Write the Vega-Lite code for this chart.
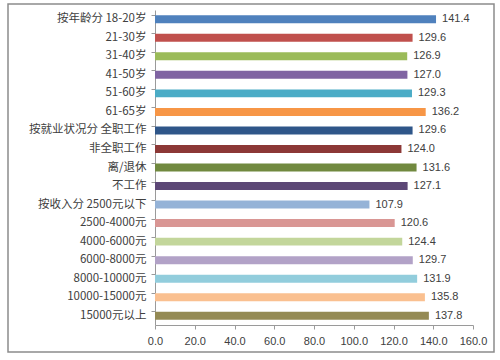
{
  "$schema": "https://vega.github.io/schema/vega-lite/v6.json",
  "width": 486,
  "height": 348,
  "autosize": {"type": "none"},
  "padding": {"left": 8, "top": 4, "right": 6, "bottom": 8},
  "background": "white",
  "config": {
    "view": {"stroke": "#8c8c8c", "strokeWidth": 1.5},
    "font": "Noto Sans CJK SC"
  },
  "data": {
    "values": [
      {"cat": "按年龄分 18-20岁", "value": 141.4, "color": "#4F81BD"},
      {"cat": "21-30岁", "value": 129.6, "color": "#C0504D"},
      {"cat": "31-40岁", "value": 126.9, "color": "#9BBB59"},
      {"cat": "41-50岁", "value": 127.0, "color": "#8064A2"},
      {"cat": "51-60岁", "value": 129.3, "color": "#4BACC6"},
      {"cat": "61-65岁", "value": 136.2, "color": "#F79646"},
      {"cat": "按就业状况分 全职工作", "value": 129.6, "color": "#2F5689"},
      {"cat": "非全职工作", "value": 124.0, "color": "#8C3836"},
      {"cat": "离/退休", "value": 131.6, "color": "#71893F"},
      {"cat": "不工作", "value": 127.1, "color": "#5C4776"},
      {"cat": "按收入分 2500元以下", "value": 107.9, "color": "#95B3D7"},
      {"cat": "2500-4000元", "value": 120.6, "color": "#D99694"},
      {"cat": "4000-6000元", "value": 124.4, "color": "#C3D69B"},
      {"cat": "6000-8000元", "value": 129.7, "color": "#B2A2C7"},
      {"cat": "8000-10000元", "value": 131.9, "color": "#92CDDC"},
      {"cat": "10000-15000元", "value": 135.8, "color": "#FAC090"},
      {"cat": "15000元以上", "value": 137.8, "color": "#948A54"}
    ]
  },
  "encoding": {
    "y": {
      "field": "cat",
      "type": "nominal",
      "sort": null,
      "scale": {"range": [6, 321], "paddingInner": 0.57, "paddingOuter": 0.285},
      "axis": {
        "title": null,
        "offset": -147,
        "domainColor": "#9a9a9a",
        "tickColor": "#9a9a9a",
        "tickSize": 4,
        "labelPadding": 5,
        "labelFontSize": 11.5,
        "labelColor": "#404040",
        "labelFont": "Noto Sans CJK SC",
        "bandPosition": 0
      }
    },
    "x": {
      "field": "value",
      "type": "quantitative",
      "scale": {"domain": [0, 160], "range": [147, 465], "nice": false},
      "axis": {
        "title": null,
        "offset": -27,
        "values": [0, 20, 40, 60, 80, 100, 120, 140, 160],
        "format": ".1f",
        "grid": false,
        "labelOverlap": false,
        "labelFlush": false,
        "domainColor": "#9a9a9a",
        "tickColor": "#9a9a9a",
        "tickSize": 4,
        "labelPadding": 6,
        "labelFontSize": 11,
        "labelColor": "#404040",
        "labelFont": "Liberation Sans"
      }
    }
  },
  "layer": [
    {
      "mark": {"type": "bar"},
      "encoding": {
        "color": {"field": "color", "type": "nominal", "scale": null, "legend": null}
      }
    },
    {
      "mark": {"type": "text", "align": "left", "baseline": "middle", "dx": 6, "fontSize": 11, "color": "#404040", "font": "Liberation Sans"},
      "encoding": {
        "text": {"field": "value", "type": "quantitative", "format": ".1f"}
      }
    }
  ]
}
